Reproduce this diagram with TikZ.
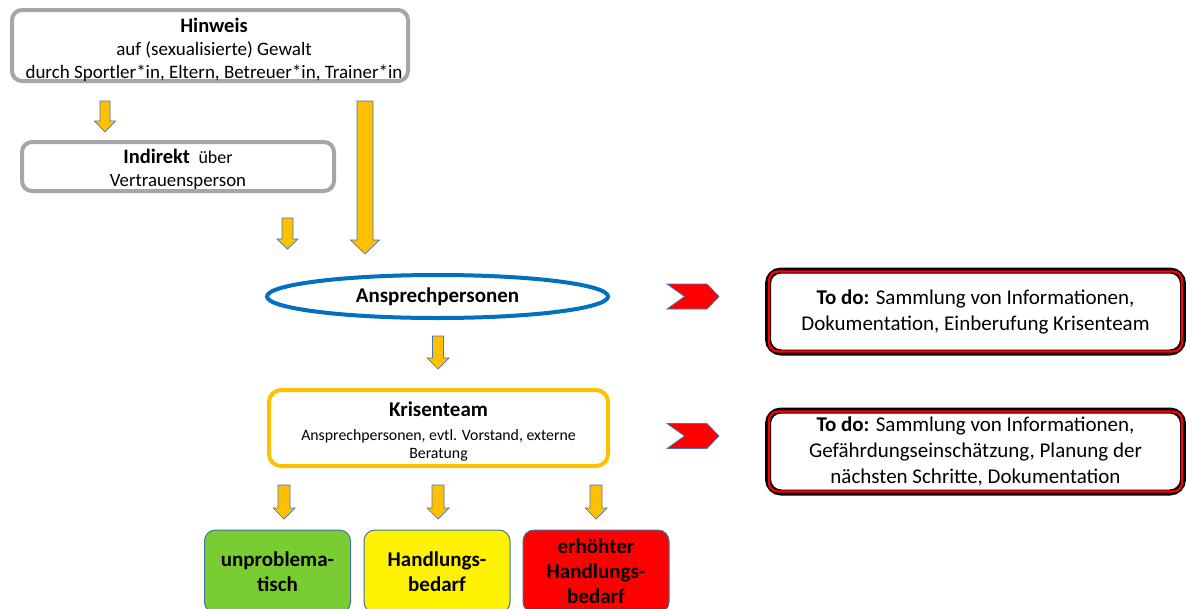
\documentclass[tikz,border=0pt]{standalone}
\usepackage{fontspec}
\setmainfont{Carlito}
\usetikzlibrary{shapes.geometric}
\definecolor{gold}{HTML}{FFC000}
\definecolor{grayline}{HTML}{A6A6A6}
\definecolor{ellblue}{HTML}{0070C0}
\definecolor{arrline}{HTML}{4472C4}
\definecolor{boxline}{HTML}{41719C}
\definecolor{okgreen}{HTML}{7ACC33}
\newcommand{\blockarrow}[6]{%
  \draw[blockarr] ({#1-#5},#2) -- ({#1+#5},#2) -- ({#1+#5},#3) -- ({#1+#6},#3) -- (#1,#4) -- ({#1-#6},#3) -- ({#1-#5},#3) -- cycle;}
\newcommand{\redchevron}[1]{%
  \draw[chev] (667,{#1-12.5}) -- (707,{#1-12.5}) -- (719,#1) -- (707,{#1+12.5}) -- (667,{#1+12.5}) -- (684.5,#1) -- cycle;}
\tikzset{
  blockarr/.style={fill=gold, draw=arrline, line width=0.7pt},
  chev/.style={fill=red, draw=arrline, line width=0.7pt},
  graybox/.style={draw=grayline, line width=4pt, rounded corners=10pt, fill=white, inner sep=0pt},
  boxtext/.style={align=center, inner sep=0pt},
  todobox/.style={draw=black, line width=6pt, rounded corners=13pt, fill=white, align=center, inner sep=0pt,
    minimum width=415pt, minimum height=82pt, font=\fontsize{21}{26}\selectfont},
  levelbox/.style={draw=boxline, line width=1pt, rounded corners=11pt, align=center, inner sep=0pt,
    minimum width=146pt, minimum height=83pt, font=\fontsize{21}{25}\selectfont\bfseries}
}
\begin{document}
\begin{tikzpicture}[x=1pt,y=-1pt]
\useasboundingbox (0,0) rectangle (1186,608);
\clip (0,0) rectangle (1186,608);
\fill[white] (0,0) rectangle (1186,608);

% Hinweis
\node[graybox, minimum width=396pt, minimum height=71pt] (hinweis) at (210,45.5) {};
\node[boxtext, font=\fontsize{19}{23}\selectfont] (hinweistext) at ([shift={(4pt,-4pt)}]hinweis.center)
  {{\fontsize{20.5}{23}\selectfont\bfseries Hinweis}\\
   auf (sexualisierte) Gewalt\\
   durch Sportler*in, Eltern, Betreuer*in, Trainer*in};

% Indirekt
\node[graybox, minimum width=312pt, minimum height=49pt] (indirekt) at (178,166.5) {};
\node[boxtext, font=\fontsize{18.8}{23}\selectfont] (indirekttext) at ([yshift=-3pt]indirekt.center)
  {{\fontsize{20.5}{23}\selectfont\bfseries Indirekt}\ \ {\fontsize{18}{23}\selectfont über}\\
   Vertrauensperson};

% Ansprechpersonen
\node[ellipse, draw=ellblue, line width=4pt, minimum width=341pt, minimum height=43pt, inner sep=0pt,
  font=\fontsize{21}{24}\selectfont\bfseries] (ansp) at (437.5,296.5) {Ansprechpersonen};

% Krisenteam
\node[draw=gold, line width=4pt, rounded corners=12pt, minimum width=339pt, minimum height=76pt,
  inner sep=0pt] (krise) at (438.5,428) {};
\node[boxtext, font=\fontsize{15.8}{18}\selectfont] (krisetext) at ([yshift=-3pt]krise.center)
  {{\fontsize{21}{23}\selectfont\bfseries Krisenteam}\\[6pt]
   Ansprechpersonen, evtl. Vorstand, externe\\
   Beratung};

% To do boxes
\node[todobox] (todo1) at (975.5,311.5)
  {\textbf{To do:} Sammlung von Informationen,\\Dokumentation, Einberufung Krisenteam};
\draw[red, line width=2.2pt, rounded corners=9pt]
  ([shift={(4,4)}]todo1.north west) rectangle ([shift={(-4,-4)}]todo1.south east);
\node[todobox] (todo2) at (975.5,451.5)
  {\textbf{To do:} Sammlung von Informationen,\\Gefährdungseinschätzung, Planung der\\nächsten Schritte, Dokumentation};
\draw[red, line width=2.2pt, rounded corners=9pt]
  ([shift={(4,4)}]todo2.north west) rectangle ([shift={(-4,-4)}]todo2.south east);

% Level boxes
\node[levelbox, fill=okgreen] (unprob) at (277.5,571.5) {unproblema-\\tisch};
\node[levelbox, fill=yellow] (handl) at (437,571.5) {Handlungs-\\bedarf};
\node[levelbox, fill=red] (erhoeht) at (596,571.5) {erhöhter\\Handlungs-\\bedarf};

% Block arrows
\blockarrow{105}{101}{121}{132}{5}{10.5}
\blockarrow{365}{101}{240}{254}{8}{14.5}
\blockarrow{287.5}{218}{239}{249}{5.5}{10.5}
\blockarrow{438}{336}{358}{369}{5.5}{11}
\blockarrow{284}{485}{508}{519}{6}{11}
\blockarrow{438}{485}{508}{519}{6}{11}
\blockarrow{596}{485}{508}{519}{6}{11}

% Chevrons
\redchevron{296.5}
\redchevron{436}
\end{tikzpicture}
\end{document}
